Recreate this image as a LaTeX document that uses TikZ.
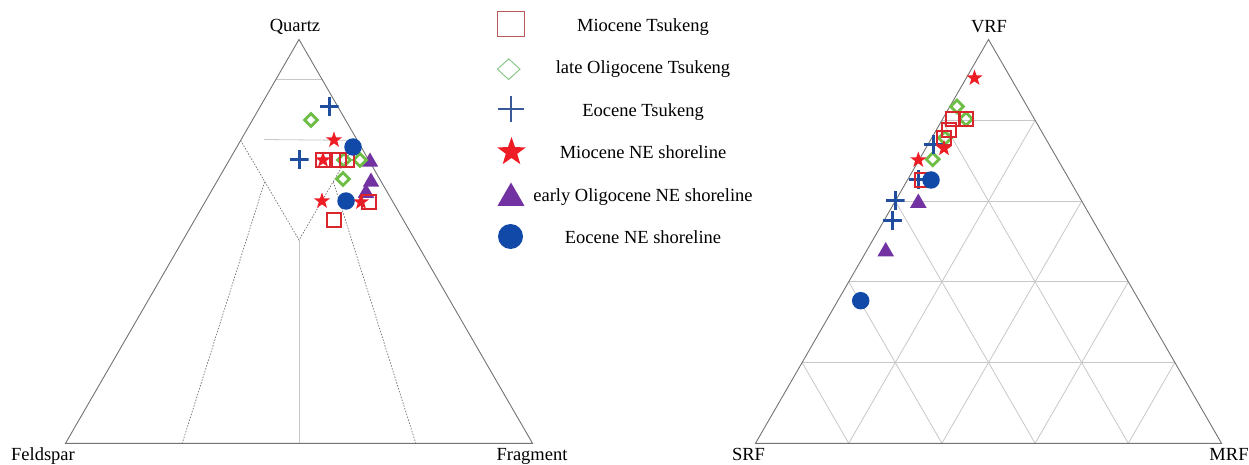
\documentclass[tikz,border=0pt]{standalone}
\usepackage{fontspec}
\setmainfont{Liberation Serif}
\usetikzlibrary{shapes.geometric,calc}
\definecolor{mred}{HTML}{D8262C}
\definecolor{mstar}{HTML}{EE1C25}
\definecolor{mgreen}{HTML}{6EBE46}
\definecolor{mcross}{HTML}{1F4E9E}
\definecolor{mpurple}{HTML}{7232A2}
\definecolor{mblue}{HTML}{1149A8}
\definecolor{lsqc}{HTML}{B85A5C}
\definecolor{ldic}{HTML}{8CC78C}
\definecolor{lcrc}{HTML}{3A5A97}
\begin{document}
\begin{tikzpicture}[x=1pt,y=-1pt,
  lbl/.style={font=\fontsize{18.5}{22}\selectfont, inner sep=0, anchor=base},
  tedge/.style={draw=black!55, line width=0.9pt},
  gridl/.style={draw=black!22, line width=0.8pt},
  dotl/.style={draw=black!55, line width=0.7pt, dash pattern=on 1.5pt off 1.5pt},
  sqm/.style={rectangle, draw=mred, line width=2.2pt, minimum size=13.5pt, inner sep=0},
  dim/.style={diamond, draw=mgreen, line width=2.8pt, minimum size=14pt, inner sep=0},
  stm/.style={star, star points=5, star point ratio=2.5, fill=mstar, minimum size=17pt, inner sep=0},
  trm/.style={regular polygon, regular polygon sides=3, fill=mpurple, minimum size=19pt, inner sep=0},
  cim/.style={circle, fill=mblue, minimum size=17.5pt, inner sep=0},
  crm/.style={rectangle, minimum size=19pt, inner sep=0,
    path picture={\draw[mcross, line width=3pt]
      (path picture bounding box.north) -- (path picture bounding box.south)
      (path picture bounding box.west) -- (path picture bounding box.east);}},
  legsq/.style={rectangle, draw=lsqc, line width=1pt, minimum width=27pt, minimum height=25pt, inner sep=0},
  legdi/.style={diamond, draw=ldic, line width=1pt, minimum width=23pt, minimum height=21pt, inner sep=0},
  legcr/.style={rectangle, minimum size=26pt, inner sep=0,
    path picture={\draw[lcrc, line width=1.3pt]
      (path picture bounding box.north) -- (path picture bounding box.south)
      (path picture bounding box.west) -- (path picture bounding box.east);}},
  legst/.style={star, star points=5, star point ratio=2.5, fill=mstar, minimum size=30pt, inner sep=0},
  legtr/.style={regular polygon, regular polygon sides=3, fill=mpurple, minimum size=31pt, inner sep=0},
  legci/.style={circle, fill=mblue, minimum size=25pt, inner sep=0},
]
\useasboundingbox (0,0) rectangle (1249,465);

% ---------------- left triangle (QFL) ----------------
\coordinate (Lq) at (299,39.5);
\coordinate (Lf) at (65.5,443.3);
\coordinate (Lr) at (532.5,443.3);
\coordinate (Lc) at (299,240);
\coordinate (Lh) at (264,139.5);
\coordinate (Lva) at (264.6,182);
\coordinate (Lvb) at (333.4,182);

\draw[gridl] ($(Lq)!0.1!(Lf)$) -- ($(Lq)!0.1!(Lr)$);
\draw[gridl] (Lh) -- ($(Lq)!0.25!(Lr)$);
\draw[dotl] ($(Lq)!0.25!(Lf)$) -- (Lc) -- ($(Lq)!0.25!(Lr)$);
\draw[gridl] (Lc) -- ($(Lf)!0.5!(Lr)$);
\draw[dotl] (Lva) -- ($(Lf)!0.25!(Lr)$);
\draw[dotl] (Lvb) -- ($(Lf)!0.75!(Lr)$);
\draw[tedge] (Lq) -- (Lf) -- (Lr) -- cycle;

\node[lbl] (tq) at (295,32) {Quartz};
\node[lbl] (tf) at (43,460.5) {Feldspar};
\node[lbl] (tr) at (532,460.5) {Fragment};

% markers, left
\node[trm] (ltr0) at (366,193) {};
\foreach \p [count=\i] in {(370,162),(371,182)} \node[trm] (ltr\i) at \p {};
\foreach \p [count=\i] in {(311,120),(360,160),(344,160),(343,179)} \node[dim] (ldi\i) at \p {};
\foreach \p [count=\i] in {(334,140),(323,160),(322,201),(361,202)} \node[stm] (lst\i) at \p {};
\foreach \p [count=\i] in {(329,107),(299,160)} \node[crm] (lcr\i) at \p {};
\foreach \p [count=\i] in {(323,160),(339,160),(347,160),(369,202),(334,220)} \node[sqm] (lsq\i) at \p {};
\foreach \p [count=\i] in {(353,147),(346,201)} \node[cim] (lci\i) at \p {};

% ---------------- legend ----------------
\node[legsq] (k1) at (510.5,24.2) {};
\node[legdi] (k2) at (508.7,69.2) {};
\node[legcr] (k3) at (511,109) {};
\node[legst] (k4) at (511.5,152) {};
\node[legtr] (k5) at (511,198) {};
\node[legci] (k6) at (510.5,236.5) {};
\node[lbl] (n1) at (643,31.5) {Miocene Tsukeng};
\node[lbl] (n2) at (643,74) {late Oligocene Tsukeng};
\node[lbl] (n3) at (643,116.7) {Eocene Tsukeng};
\node[lbl] (n4) at (643,158.5) {Miocene NE shoreline};
\node[lbl] (n5) at (643,201.5) {early Oligocene NE shoreline};
\node[lbl] (n6) at (643,243.5) {Eocene NE shoreline};

% ---------------- right triangle (VRF-SRF-MRF) ----------------
\coordinate (Rv) at (988.5,39.5);
\coordinate (Rs) at (755.5,443.3);
\coordinate (Rm) at (1221.5,443.3);
\foreach \k in {1,...,4}{
  \draw[gridl] ($(Rs)!\k/5!(Rv)$) -- ($(Rm)!\k/5!(Rv)$);
  \draw[gridl] ($(Rs)!\k/5!(Rm)$) -- ($(Rm)!{1-\k/5}!(Rv)$);
  \draw[gridl] ($(Rs)!\k/5!(Rm)$) -- ($(Rs)!\k/5!(Rv)$);
}
\draw[tedge] (Rv) -- (Rs) -- (Rm) -- cycle;

\node[lbl] (tv) at (989,33) {VRF};
\node[lbl] (ts) at (748.5,460.5) {SRF};
\node[lbl] (tm) at (1229,460.5) {MRF};

% markers, right
\foreach \p [count=\i] in {(918.3,203),(885.7,251.5)} \node[trm] (rtr\i) at \p {};
\foreach \p [count=\i] in {(957,106.5),(966,119),(945,138),(932.7,159.3)} \node[dim] (rdi\i) at \p {};
\foreach \p [count=\i] in {(974.5,78),(944,148.3),(918.3,160)} \node[stm] (rst\i) at \p {};
\foreach \p [count=\i] in {(933,145),(918,180),(895,200.7),(892.7,220.7)} \node[crm] (rcr\i) at \p {};
\foreach \p [count=\i] in {(953,119),(966,119),(949,130),(944,138),(922,180)} \node[sqm] (rsq\i) at \p {};
\foreach \p [count=\i] in {(931,180),(860.7,300.7)} \node[cim] (rci\i) at \p {};
\end{tikzpicture}
\end{document}
